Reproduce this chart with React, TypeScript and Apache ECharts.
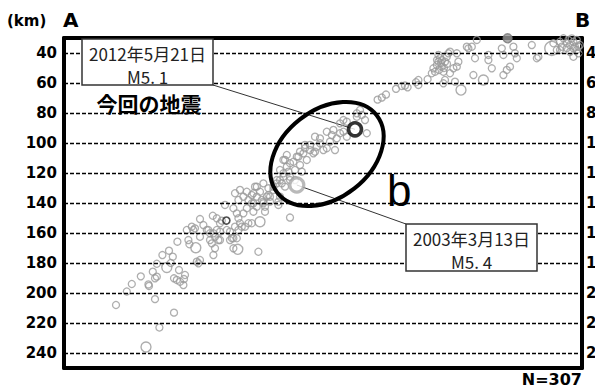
import React, { useEffect, useRef } from "react";
import * as echarts from "echarts";

// Depth tick labels (km)
const depthTicks = [40, 60, 80, 100, 120, 140, 160, 180, 200, 220, 240];

// [distance along profile A-B (km), depth (km)]
const smallQuakes: number[][] = [
  [26, 208], [31.4, 199], [33.9, 194], [38.4, 188.9], [42.2, 194.3], [42.5, 195.3], [44.4, 185.8], [45.5, 190.2],
  [46.4, 189.1], [45.5, 204.1], [46.4, 180.5], [49.2, 174.7], [52.5, 171.8], [53.4, 180], [54.4, 175.8], [55, 190.2],
  [55, 213.1], [56.4, 191.3], [57.5, 184.7], [58, 192.5], [59.7, 194.7], [60, 190.7], [60.5, 188], [47.7, 223],
  [66.4, 179.1], [67.2, 180.2], [68, 178], [97.2, 172.5],
  [56.7, 165.8], [62.2, 164.7], [62.7, 167.5], [64.7, 158], [65.5, 156.9], [61.4, 158], [63.9, 155.8], [68, 150.7],
  [69.7, 154.7], [72.2, 158], [73, 160.2], [73, 164.7], [73.9, 166.9], [74.7, 160.2], [75.5, 162.5], [75.5, 170.2],
  [76.4, 158], [74.7, 174.7], [74.4, 148.5], [77.2, 164.7], [78, 159.1], [76.4, 150.2], [78.9, 151.8], [80.5, 141.3],
  [81.4, 158], [83, 159.1], [83.9, 163.5], [84.7, 163.5], [86.4, 163.5], [88, 153.5], [88.9, 155.8], [90.5, 155.8],
  [92.2, 153.5], [84.7, 143.5], [86.4, 146.9], [87.2, 150.2], [89.7, 146.9], [91.4, 143.5], [93.9, 140.2], [94.7, 145.8],
  [96.4, 142.5], [100.5, 145.8], [99.7, 140.2], [68, 162.5], [71.4, 158], [78, 164.7], [83, 164.7], [84.7, 170.2],
  [85.5, 155.8], [87.2, 158], [93.9, 153.5], [78, 153.5], [113, 149.7],
  [85.5, 133.5], [88, 131.3], [87.2, 138], [89.7, 135.8], [91.4, 132.5], [92.2, 138], [93.9, 134.7], [95.5, 129.1],
  [96.4, 135.8], [98, 132.5], [98.9, 138], [99.7, 126.9], [100.5, 142.5], [101.4, 135.8], [102.2, 130.2], [103, 139.1],
  [104.7, 129.1], [106.4, 124.7], [107.2, 139.1], [108, 118], [108.9, 126.9], [109.7, 122.5], [110.5, 111.3], [111.4, 115.8],
  [112.2, 119.1], [113, 124.7], [114.7, 112.5], [115.5, 118], [117.2, 109.1], [118, 114.7], [118.9, 119.1], [119.7, 106.9],
  [120.5, 101.3], [121.4, 111.3], [123, 104.7], [124.7, 106.9], [125.5, 95.8], [126.4, 102.5], [128, 100.2], [129.7, 104.7],
  [131.4, 92.5], [131.4, 103.5], [133, 99.1], [133.9, 94.7], [135.5, 104.7], [136.4, 96.9], [138, 93.5], [139.7, 92.5],
  [141.4, 95.8], [146.4, 82.5], [94.7, 140.2], [103, 135.8], [104.7, 131.3], [106.4, 126.9], [107.2, 141.3], [108, 135.8],
  [115.5, 124.7], [116.4, 109.1], [134.7, 91.3], [138, 86.9], [139.7, 84.7], [141.4, 85.8], [146.4, 80.2], [148.9, 81.3],
  [150.5, 84.7], [148, 78], [151.4, 93.5], [109.7, 111.3], [111.4, 108], [113, 113.5], [118, 105.8], [120.5, 103.5],
  [123, 101.3], [128, 96.9], [125.5, 105.8], [109.7, 120.2], [108, 124.7], [113, 122.5], [110.5, 129.1], [96.4, 129.1],
  [94.7, 133.5], [99.7, 139.1], [102.2, 134.7],
  [156.8, 71.1], [158.9, 69.7], [161, 67.7], [166, 63.9], [168.9, 62], [170.5, 61.7], [171.8, 62.9], [176, 59.5],
  [177.2, 61.3], [177.2, 58], [181.8, 57.5], [183.9, 53.5], [184.7, 50.2], [185.5, 52.5], [186.4, 48], [187.2, 45.8],
  [188, 43.5], [187.2, 41.3], [188.9, 49.1], [189.7, 52.5], [190.5, 45.8], [191.4, 42.5], [192.2, 40.2], [190.5, 58],
  [189.7, 60.2], [193, 53.5], [194.7, 50.2], [196.4, 40.2], [195.5, 59.1], [201.4, 35.8], [197.2, 45.8], [196.4, 49.1],
  [193, 39.1], [189, 44.7], [186.5, 44.7], [188.5, 46.7], [190, 50], [187.5, 51.3], [191.5, 47.3],
  [202.2, 36.9], [203.9, 35.8], [206.4, 31.3], [205.5, 43.5], [212.2, 44.7], [213.9, 50.2], [204.7, 54.7], [212.2, 41.3],
  [218.9, 36.9], [219.7, 41.3], [224.7, 35.8], [225.5, 40.2], [226.4, 43.5], [219.7, 54.7], [221.4, 51.3], [223, 49.1],
  [233.9, 34.7], [236.4, 43.5], [237.2, 42.5], [244.7, 33.5], [246.4, 38], [248, 32.5], [249.7, 30.2], [251.4, 33.5],
  [253, 34.7], [254.7, 32.5], [255.5, 35.8], [256.4, 38], [254.7, 42.5], [257.2, 40.2], [258, 34.7], [252.2, 31.3],
  [253.9, 30.3], [256.4, 31.3], [248.9, 35.8], [254.7, 36.9], [257.2, 35.8], [251.4, 36.7], [253, 39.3], [248, 38],
];

const mediumQuakes: number[][] = [
  [51.4, 183], [41, 236], [86.9, 170.9], [65.9, 169.8], [98, 152.5], [198.5, 64.7], [209.7, 58],
];
const largeQuakes: number[][] = [[243.9, 36.9]];
const darkQuakes: number[][] = [[81.2, 151.7]];
const filledQuakes: number[][] = [[221.8, 30.2]];

const event2012 = [145.5, 90.9]; // 2012年5月21日 M5.1
const event2003 = [116.4, 128]; // 2003年3月13日 M5.4
const eventCount = 307;

const GREY = "#9a9a9a";
const NUM_FONT = "DejaVu Sans";
const JP_FONT = "Noto Sans CJK JP";

export default function App() {
  const ref = useRef<HTMLDivElement>(null);

  useEffect(() => {
    document.body.style.margin = "0";
    const chart = echarts.init(ref.current!, null, { renderer: "svg" });

    const labelFmt = (v: number) => (depthTicks.indexOf(v) >= 0 ? String(v) : "");
    const xAxisBase = {
      type: "value" as const,
      min: 0,
      max: 259,
      axisLine: { show: true, onZero: false, lineStyle: { color: "#000", width: 4 } },
      axisTick: { show: false },
      axisLabel: { show: false },
      splitLine: { show: false },
    };
    const yAxisBase = {
      type: "value" as const,
      min: 30,
      max: 250,
      interval: 10,
      inverse: true,
      axisLine: { show: true, onZero: false, lineStyle: { color: "#000", width: 4 } },
      axisTick: { show: false },
      splitLine: { show: false },
    };
    const labelStyle = {
      formatter: labelFmt,
      fontFamily: NUM_FONT,
      fontWeight: "bold" as const,
      fontSize: 15,
      color: "#000",
    };
    const scatter = (data: number[][], size: number, itemStyle: any, z = 3) => ({
      type: "scatter" as const,
      data,
      symbol: "circle",
      symbolSize: size,
      itemStyle,
      z,
      silent: true,
    });

    chart.setOption({
      animation: false,
      grid: { left: 64, right: 13, top: 38, bottom: 24, containLabel: false, outerBoundsMode: "none" },
      xAxis: [
        { ...xAxisBase, position: "bottom" },
        { ...xAxisBase, position: "top" },
      ],
      yAxis: [
        { ...yAxisBase, position: "left", axisLabel: { ...labelStyle, margin: 7 } },
        { ...yAxisBase, position: "right", axisLabel: { ...labelStyle, margin: 4 } },
      ],
      series: [
        {
          type: "scatter",
          data: [],
          z: 1,
          markLine: {
            silent: true,
            symbol: ["none", "none"],
            label: { show: false },
            lineStyle: { color: "#000", type: [4, 2], width: 1.3 },
            data: depthTicks.map((v) => ({ yAxis: v })),
          },
        },
        scatter(smallQuakes, 7, { color: "transparent", borderColor: GREY, borderWidth: 1.3 }),
        scatter(mediumQuakes, 10, { color: "transparent", borderColor: GREY, borderWidth: 1.4 }),
        scatter(largeQuakes, 14, { color: "transparent", borderColor: GREY, borderWidth: 1.4 }),
        scatter(darkQuakes, 7, { color: "transparent", borderColor: "#222", borderWidth: 1.6 }),
        scatter(filledQuakes, 9, { color: "#999", borderColor: "#777", borderWidth: 1.4 }),
        scatter([event2003], 14, { color: "#fff", borderColor: "#a8a8a8", borderWidth: 3.2 }, 4),
        scatter([event2012], 13, { color: "#fff", borderColor: "#000", borderWidth: 3.6 }, 5),
      ],
    });

    const p12 = chart.convertToPixel({ xAxisIndex: 0, yAxisIndex: 0 }, event2012) as number[];
    const p03 = chart.convertToPixel({ xAxisIndex: 0, yAxisIndex: 0 }, event2003) as number[];

    const boxText = (text: string, x: number, y: number) => ({
      type: "text",
      z: 11,
      style: {
        text,
        x,
        y,
        align: "center",
        verticalAlign: "middle",
        fontFamily: JP_FONT,
        fontSize: 17,
        lineHeight: 23,
        fill: "#222",
      },
    });

    chart.setOption({
      graphic: [
        {
          type: "text",
          style: { text: "(km)", x: 7, y: 21, verticalAlign: "middle", fontFamily: NUM_FONT, fontWeight: "bold", fontSize: 15, fill: "#000" },
        },
        {
          type: "text",
          style: { text: "A", x: 63, y: 20, verticalAlign: "middle", fontFamily: NUM_FONT, fontWeight: "bold", fontSize: 20, fill: "#000" },
        },
        {
          type: "text",
          style: { text: "B", x: 575, y: 20, verticalAlign: "middle", fontFamily: NUM_FONT, fontWeight: "bold", fontSize: 20, fill: "#000" },
        },
        {
          type: "line",
          z: 1,
          shape: { x1: 213, y1: 85, x2: p12[0], y2: p12[1] },
          style: { stroke: "#333", lineWidth: 1 },
        },
        {
          type: "line",
          z: 1,
          shape: { x1: p03[0], y1: p03[1], x2: 406, y2: 224 },
          style: { stroke: "#333", lineWidth: 1 },
        },
        {
          type: "rect",
          z: 10,
          shape: { x: 82, y: 39, width: 131, height: 46 },
          style: { fill: "#fff", stroke: "#333", lineWidth: 1.5 },
        },
        boxText("2012年5月21日\nM5. 1", 147.5, 64.5),
        {
          type: "rect",
          z: 10,
          shape: { x: 406, y: 224, width: 131, height: 47 },
          style: { fill: "#fff", stroke: "#333", lineWidth: 1.5 },
        },
        boxText("2003年3月13日\nM5. 4", 471.5, 249.5),
        {
          type: "text",
          z: 11,
          style: { text: "今回の地震", x: 149, y: 103, align: "center", verticalAlign: "middle", fontFamily: JP_FONT, fontWeight: "bold", fontSize: 21, fill: "#000" },
        },
        {
          type: "ellipse",
          z: 10,
          x: 327,
          y: 154,
          rotation: (38 * Math.PI) / 180,
          shape: { cx: 0, cy: 0, rx: 63, ry: 44 },
          style: { fill: "none", stroke: "#000", lineWidth: 4 },
        },
        {
          type: "text",
          z: 11,
          style: { text: "b", x: 387, y: 190, verticalAlign: "middle", fontFamily: "Liberation Sans", fontSize: 44, fill: "#000" },
        },
        {
          type: "text",
          z: 11,
          style: { text: `N=${eventCount}`, x: 582, y: 379, align: "right", verticalAlign: "middle", fontFamily: NUM_FONT, fontWeight: "bold", fontSize: 16, fill: "#000" },
        },
      ],
    });

    return () => chart.dispose();
  }, []);

  return <div ref={ref} style={{ width: 595, height: 392 }} />;
}
